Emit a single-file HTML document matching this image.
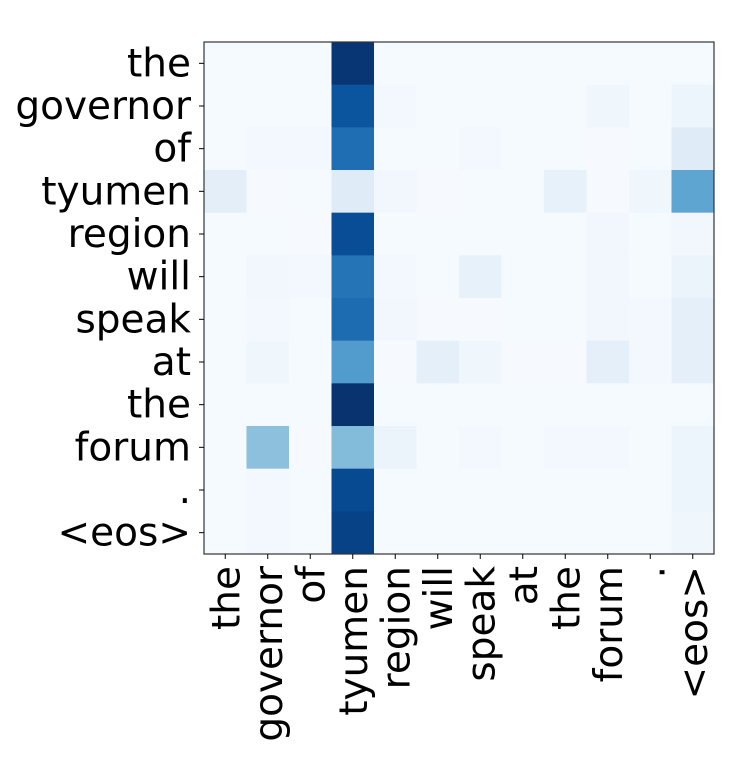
<!DOCTYPE html>
<html><head><meta charset="utf-8"><style>
body{margin:0;background:#fff;}
svg text{font-family:"DejaVu Sans","Liberation Sans",sans-serif;font-size:39px;fill:#000;}
</style></head><body>
<svg id="chart" width="745" height="764"></svg>
<script>
const rowLabels=["the","governor","of","tyumen","region","will","speak","at","the","forum",".","<eos>"];
const colLabels=["the","governor","of","tyumen","region","will","speak","at","the","forum",".","<eos>"];
const row0=[0.01,0.01,0.01,0.98,0.01,0.01,0.01,0.01,0.01,0.01,0.01,0.01];
const row1=[0.01,0.01,0.01,0.86,0.02,0.01,0.01,0.01,0.01,0.04,0.01,0.05];
const row2=[0.01,0.02,0.02,0.76,0.01,0.01,0.02,0.01,0.01,0.005,0.01,0.12];
const row3=[0.1,0.005,0.01,0.12,0.03,0.005,0.01,0.01,0.08,0.005,0.04,0.54];
const row4=[0.01,0.01,0.005,0.89,0.01,0.01,0.01,0.01,0.01,0.03,0.01,0.03];
const row5=[0.01,0.03,0.02,0.74,0.02,0.01,0.08,0.01,0.01,0.03,0.01,0.06];
const row6=[0.01,0.02,0.01,0.77,0.03,0.005,0.005,0.01,0.01,0.03,0.02,0.09];
const row7=[0.01,0.04,0.01,0.58,0.005,0.09,0.04,0.005,0.005,0.09,0.02,0.09];
const row8=[0.01,0.01,0.01,0.99,0.01,0.01,0.01,0.01,0.01,0.01,0.01,0.01];
const row9=[0.01,0.42,0.005,0.44,0.06,0.01,0.02,0.01,0.02,0.02,0.01,0.05];
const row10=[0.01,0.02,0.01,0.9,0.01,0.01,0.01,0.01,0.01,0.01,0.01,0.05];
const row11=[0.01,0.02,0.01,0.93,0.01,0.01,0.01,0.01,0.01,0.01,0.01,0.04];
const values=[row0,row1,row2,row3,row4,row5,row6,row7,row8,row9,row10,row11];

const NS="http://www.w3.org/2000/svg";
const svg=document.getElementById('chart');
const L=204,T=42,R=714,B=554;
const nC=colLabels.length,nR=rowLabels.length;
const cw=(R-L)/nC,ch=(B-T)/nR;
const xs=i=>L+i*cw, ys=j=>T+j*ch;
const stops=[[247,251,255],[222,235,247],[198,219,239],[158,202,225],[107,174,214],[66,146,198],[33,113,181],[8,81,156],[8,48,107]];
function blues(v){v=Math.max(0,Math.min(1,v))*8;const i=Math.min(7,Math.floor(v)),f=v-i;const a=stops[i],b=stops[i+1];
return `rgb(${a.map((c,k)=>Math.round(c+(b[k]-c)*f)).join(',')})`;}
function mk(t,attrs){const e=document.createElementNS(NS,t);for(const k in attrs)e.setAttribute(k,attrs[k]);svg.appendChild(e);return e;}
values.forEach((row,j)=>row.forEach((v,i)=>{
 const r=mk('rect',{x:xs(i),y:ys(j),width:cw+0.5,height:ch+0.5,fill:blues(v)});
 
 
}));
const fr=mk('rect',{x:L,y:T,width:R-L,height:B-T,fill:'none',stroke:'#333','stroke-width':1.2});


rowLabels.forEach((lab,j)=>{
 const y=ys(j)+ch/2;
 const tk=mk('line',{x1:L-5,x2:L,y1:y,y2:y,stroke:'#000','stroke-width':1});
 
 
 const t=mk('text',{x:191,y:y+13,'text-anchor':'end'});t.textContent=lab;
 
 
});
colLabels.forEach((lab,i)=>{
 const x=xs(i)+cw/2;
 const tk=mk('line',{x1:x,x2:x,y1:B,y2:B+5,stroke:'#000','stroke-width':1});
 
 
 const t=mk('text',{x:x+14,y:566,'text-anchor':'end',transform:`rotate(-90 ${x+14} 566)`});t.textContent=lab;
 
 
});
</script>
</body></html>
